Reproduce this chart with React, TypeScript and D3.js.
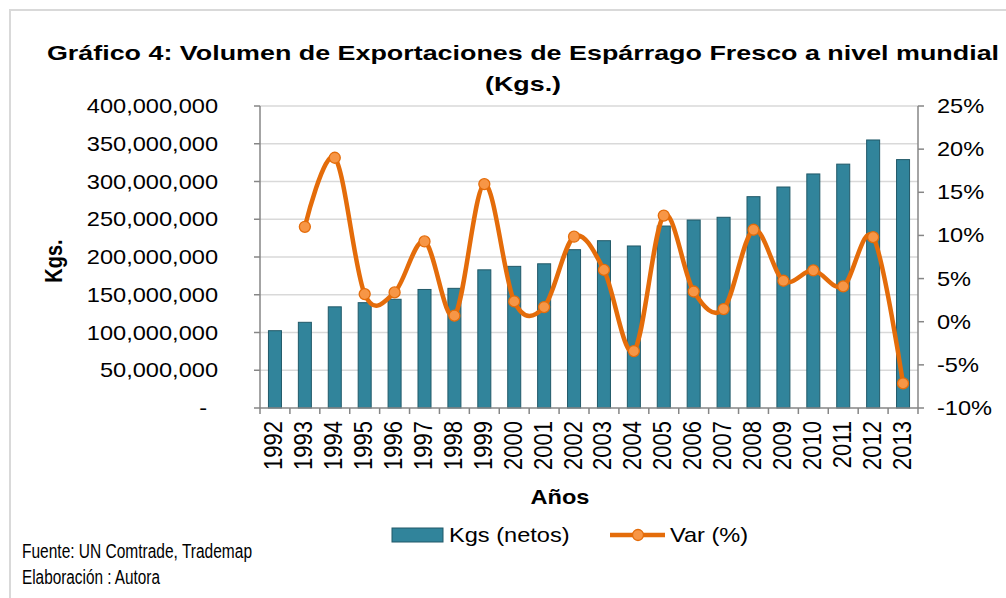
import React from "react";
import * as d3 from "d3";

const years = ["1992","1993","1994","1995","1996","1997","1998","1999","2000","2001","2002","2003","2004","2005","2006","2007","2008","2009","2010","2011","2012","2013"];
const kgs = [102400000,113500000,134000000,139500000,144000000,157000000,158500000,183000000,187600000,191000000,209700000,221600000,214600000,241000000,249000000,252600000,279900000,292700000,310000000,323000000,355000000,329000000];
const varPct = [null,0.110,0.190,0.032,0.034,0.093,0.007,0.1595,0.0235,0.017,0.0985,0.060,-0.034,0.123,0.035,0.0147,0.1066,0.0475,0.0595,0.041,0.098,-0.0715];
const leftTicks = [0,50000000,100000000,150000000,200000000,250000000,300000000,350000000,400000000];
const rightTicks = [-0.10,-0.05,0,0.05,0.10,0.15,0.20,0.25];

const SX = 1.18;
const FONT = "'Liberation Sans', Arial, sans-serif";

function SText({ x, y, anchor = "start", size = 19, weight = "normal", children, fill = "#000", sx = SX }: any) {
  return (
    <g transform={`translate(${x},${y}) scale(${sx},1)`}>
      <text x={0} y={0} textAnchor={anchor} fontSize={size} fontWeight={weight} fontFamily={FONT} fill={fill}>{children}</text>
    </g>
  );
}

export default function App() {
  const left = 260, right = 918, top = 106, bottom = 408;
  const p = 0.565;
  const x = d3.scaleBand<string>().domain(years).range([left, right]).paddingInner(p).paddingOuter(p / 2);
  const step = x.step();
  const yL = d3.scaleLinear().domain([0, 400000000]).range([bottom, top]);
  const yR = d3.scaleLinear().domain([-0.10, 0.25]).range([bottom, top]);
  const fmt = d3.format(",");
  const pctFmt = (v: number) => `${Math.round(v * 100)}%`;

  const pts: [number, number][] = [];
  years.forEach((yr, i) => {
    const v = varPct[i];
    if (v !== null) pts.push([(x(yr) as number) + x.bandwidth() / 2, yR(v as number)]);
  });
  const line = d3.line<[number, number]>().curve(d3.curveCatmullRom.alpha(0)).x(d => d[0]).y(d => d[1]);

  const gridColor = "#D9D9D9";
  const axisColor = "#868686";
  const barFill = "#31849B";
  const barStroke = "#215968";
  const lineColor = "#E46C0A";
  const markerFill = "#F79646";

  return (
    <svg width={1006} height={598} style={{ position: "absolute", left: 0, top: 0, background: "#fff" }}>
      <rect x={10} y={10} width={1010} height={600} fill="#fff" stroke={gridColor} strokeWidth={2} />
      {/* title */}
      <SText x={523} y={60} anchor="middle" size={21} sx={1.28} weight="bold">Gráfico 4: Volumen de Exportaciones de Espárrago Fresco a nivel mundial</SText>
      <SText x={523} y={91} anchor="middle" size={21} sx={1.28} weight="bold">(Kgs.)</SText>

      {/* gridlines */}
      {leftTicks.slice(1).map(t => (
        <line key={t} x1={left} x2={right} y1={yL(t)} y2={yL(t)} stroke={gridColor} strokeWidth={1.5} />
      ))}

      {/* bars */}
      {years.map((yr, i) => (
        <rect key={yr} x={x(yr)} y={yL(kgs[i])} width={x.bandwidth()} height={bottom - yL(kgs[i])} fill={barFill} stroke={barStroke} strokeWidth={1} />
      ))}

      {/* axes */}
      <line x1={left} x2={left} y1={top} y2={bottom} stroke={axisColor} strokeWidth={1.5} />
      <line x1={right} x2={right} y1={top} y2={bottom} stroke={axisColor} strokeWidth={1.5} />
      <line x1={left} x2={right} y1={bottom} y2={bottom} stroke={axisColor} strokeWidth={1.5} />
      {leftTicks.map(t => (
        <line key={"lt" + t} x1={left - 6} x2={left} y1={yL(t)} y2={yL(t)} stroke={axisColor} strokeWidth={1.5} />
      ))}
      {rightTicks.map(t => (
        <line key={"rt" + t} x1={right} x2={right + 6} y1={yR(t)} y2={yR(t)} stroke={axisColor} strokeWidth={1.5} />
      ))}
      {years.map((yr, i) => (
        <line key={"xt" + yr} x1={left + i * step} x2={left + i * step} y1={bottom} y2={bottom + 6} stroke={axisColor} strokeWidth={1.5} />
      ))}
      <line x1={right} x2={right} y1={bottom} y2={bottom + 6} stroke={axisColor} strokeWidth={1.5} />

      {/* line series */}
      <path d={line(pts) || ""} fill="none" stroke={lineColor} strokeWidth={4.5} strokeLinejoin="round" />
      {pts.map((pt, i) => (
        <circle key={"m" + i} cx={pt[0]} cy={pt[1]} r={5.5} fill={markerFill} stroke={lineColor} strokeWidth={1.3} />
      ))}

      {/* left tick labels */}
      {leftTicks.map(t => (
        t === 0
          ? <SText key={"ll" + t} x={207} y={yL(t) + 7} anchor="end" size={20}>-</SText>
          : <SText key={"ll" + t} x={218} y={yL(t) + 7} anchor="end" size={20}>{fmt(t)}</SText>
      ))}
      {/* right tick labels */}
      {rightTicks.map(t => (
        <SText key={"rl" + t} x={937} y={yR(t) + 7} anchor="start" size={20}>{pctFmt(t)}</SText>
      ))}
      {/* year labels */}
      {years.map(yr => {
        const cx = (x(yr) as number) + x.bandwidth() / 2;
        return (
          <g key={"yl" + yr} transform={`translate(${cx + 7.5},${421}) scale(${SX},1) rotate(-90)`}>
            <text x={0} y={0} textAnchor="end" fontSize={22} fontFamily={FONT}>{yr}</text>
          </g>
        );
      })}

      {/* axis titles */}
      <SText x={560} y={504} anchor="middle" size={20} weight="bold">Años</SText>
      <g transform={`translate(62,261) scale(${SX},1) rotate(-90)`}>
        <text x={0} y={0} textAnchor="middle" fontSize={20} fontWeight="bold" fontFamily={FONT}>Kgs.</text>
      </g>

      {/* legend */}
      <rect x={392} y={528} width={51} height={14} fill={barFill} stroke={barStroke} strokeWidth={1} />
      <SText x={449} y={542} size={20}>Kgs (netos)</SText>
      <line x1={610} x2={665} y1={535} y2={535} stroke={lineColor} strokeWidth={4.5} />
      <circle cx={638} cy={535} r={5.5} fill={markerFill} stroke={lineColor} strokeWidth={1.3} />
      <SText x={670} y={542} size={20}>Var (%)</SText>

      {/* source */}
      <text x={22} y={558} fontSize={20} fontFamily="'Liberation Sans Narrow', 'Arial Narrow', 'Liberation Sans', sans-serif" textLength={230} lengthAdjust="spacingAndGlyphs">Fuente: UN Comtrade, Trademap</text>
      <text x={22} y={584} fontSize={20} fontFamily="'Liberation Sans Narrow', 'Arial Narrow', 'Liberation Sans', sans-serif" textLength={138} lengthAdjust="spacingAndGlyphs">Elaboración : Autora</text>
    </svg>
  );
}
